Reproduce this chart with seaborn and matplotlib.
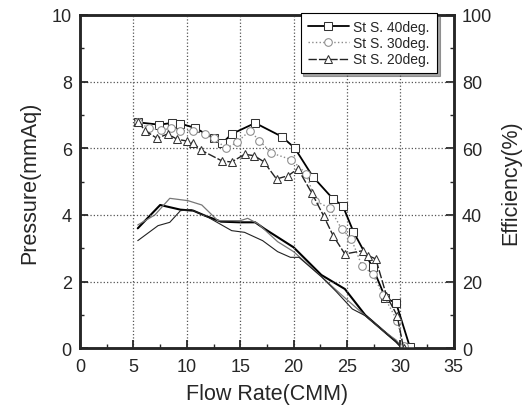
import matplotlib
matplotlib.use("Agg")
import matplotlib.pyplot as plt
import seaborn as sns
import numpy as np
import pandas as pd
from matplotlib.ticker import MultipleLocator

# pressure curves (mmAq)
flow_40 = [5.4, 7.4, 8.6, 9.4, 10.8, 12.5, 13.3, 14.2, 16.4, 18.9, 20.1, 21.8, 23.7, 24.6, 25.6, 27.4, 28.6, 29.6, 30.9]
pres_40 = [6.78, 6.71, 6.76, 6.74, 6.61, 6.3, 6.15, 6.43, 6.76, 6.35, 6.01, 5.15, 4.48, 4.28, 3.5, 2.43, 1.51, 1.36, 0.03]

flow_30 = [5.4, 6.5, 7.6, 8.5, 9.4, 10.6, 11.7, 12.5, 13.7, 14.7, 15.9, 16.8, 17.9, 19.8, 21.2, 22.0, 23.4, 24.5, 25.4, 26.4, 27.4, 28.4, 29.7, 30.3]
pres_30 = [6.78, 6.6, 6.55, 6.6, 6.53, 6.53, 6.43, 6.3, 6.0, 6.18, 6.53, 6.23, 5.86, 5.66, 5.23, 4.43, 4.2, 3.58, 3.28, 2.48, 2.23, 1.6, 0.83, 0.08]

flow_20 = [5.4, 6.1, 7.2, 8.2, 9.1, 10.0, 10.6, 11.3, 13.3, 14.2, 15.4, 16.3, 17.2, 18.4, 19.5, 20.4, 21.7, 22.8, 23.7, 24.8, 26.5, 27.0, 27.7, 28.7, 29.7, 30.3]
pres_20 = [6.8, 6.53, 6.3, 6.43, 6.27, 6.22, 6.16, 5.95, 5.62, 5.59, 5.82, 5.78, 5.6, 5.08, 5.18, 5.39, 4.66, 3.98, 3.38, 2.83, 2.93, 2.78, 2.68, 1.58, 0.98, 0.0]

# efficiency curves (%)
flow_ea = [5.4, 7.5, 9.4, 10.6, 11.7, 13.2, 15.0, 16.4, 17.3, 20.0, 22.6, 24.8, 26.7, 28.5, 29.6, 30.2]
eff_a = [36, 43, 41.6, 41.3, 39.8, 38, 37.8, 37.8, 35.8, 30.3, 22, 17.8, 10, 5, 2, 0]

flow_eb = [5.4, 7.0, 8.4, 10.1, 11.4, 12.9, 15.0, 15.7, 16.7, 18.5, 20.0, 22.6, 24.5, 26.7, 28.5, 29.6, 30.2]
eff_b = [37, 40, 45, 44.3, 43, 38.3, 38.3, 39, 37.3, 32, 29, 21.5, 16, 9.8, 5, 2.5, 0]

flow_ec = [5.4, 7.3, 8.4, 9.4, 10.4, 12.0, 14.2, 15.4, 17.1, 18.5, 19.7, 20.5, 22.6, 24.0, 25.5, 26.7, 28.5, 29.6, 30.2]
eff_c = [32.3, 36.8, 37.8, 41.3, 41.6, 39.3, 35.3, 34.8, 32.3, 29, 27.3, 27.3, 21.5, 17, 11.8, 9.8, 5, 2, 0]

sns.set_style("ticks")
plt.rcParams['font.family'] = ['Liberation Sans', 'DejaVu Sans']

fig = plt.figure(figsize=(5.27, 4.10), dpi=100)
ax = fig.add_axes([0.152, 0.148, 0.709, 0.813])
ax2 = ax.twinx()

mk = dict(markersize=5.5, markerfacecolor='white', estimator=None, sort=False)
sns.lineplot(x=flow_40, y=pres_40, ax=ax, color='black', lw=1.3, marker='s',
             markeredgecolor='#333333', label='St S. 40deg.', **mk)
sns.lineplot(x=flow_30, y=pres_30, ax=ax, color='#8a8a8a', lw=1.0, ls=':', marker='o',
             markeredgecolor='#8a8a8a', label='St S. 30deg.', **mk)
sns.lineplot(x=flow_20, y=pres_20, ax=ax, color='#222222', lw=1.0, ls=(0, (6, 1.5)), marker='^',
             markeredgecolor='#333333', label='St S. 20deg.', **mk)

sns.lineplot(x=flow_ea, y=eff_a, ax=ax2, color='black', lw=1.5, estimator=None, sort=False)
sns.lineplot(x=flow_eb, y=eff_b, ax=ax2, color='#777777', lw=0.9, estimator=None, sort=False)
sns.lineplot(x=flow_ec, y=eff_c, ax=ax2, color='#222222', lw=0.8, estimator=None, sort=False)

ax.set_xlim(0, 35)
ax.set_ylim(0, 10)
ax2.set_ylim(0, 100)
ax.xaxis.set_major_locator(MultipleLocator(5))
ax.xaxis.set_minor_locator(MultipleLocator(2.5))
ax.yaxis.set_major_locator(MultipleLocator(2))
ax.yaxis.set_minor_locator(MultipleLocator(1))
ax2.yaxis.set_major_locator(MultipleLocator(20))
ax2.yaxis.set_minor_locator(MultipleLocator(10))

ax.grid(True, which='major', color='#555555', ls=':', lw=0.9)
for a in (ax, ax2):
    a.tick_params(which='major', direction='in', length=6, width=1.3, labelsize=13)
    a.tick_params(which='minor', direction='in', length=3, width=1)
    for s in a.spines.values():
        s.set_linewidth(1.8)
        s.set_visible(True)
ax.tick_params(axis='x', which='major', pad=7)
ax.tick_params(axis='y', which='major', pad=6)
ax2.tick_params(axis='y', which='major', pad=6)

ax.set_xlabel('Flow Rate(CMM)', fontsize=15.5, labelpad=6)
ax.set_ylabel('Pressure(mmAq)', fontsize=15.5, labelpad=8)
ax2.set_ylabel('Efficiency(%)', fontsize=15.5, labelpad=6)

ax2.get_legend() and ax2.get_legend().remove()
leg = ax.legend(loc='upper right', bbox_to_anchor=(0.955, 1.005), fontsize=10, frameon=True,
                fancybox=False, shadow=True, handlelength=3.0, borderpad=0.5,
                labelspacing=0.15, borderaxespad=0.0, handletextpad=0.3)
leg.get_frame().set_edgecolor('black')
leg.get_frame().set_linewidth(0.8)
ax.set_zorder(ax2.get_zorder() + 1)
ax.patch.set_visible(False)

fig.savefig('out.png', dpi=100)
